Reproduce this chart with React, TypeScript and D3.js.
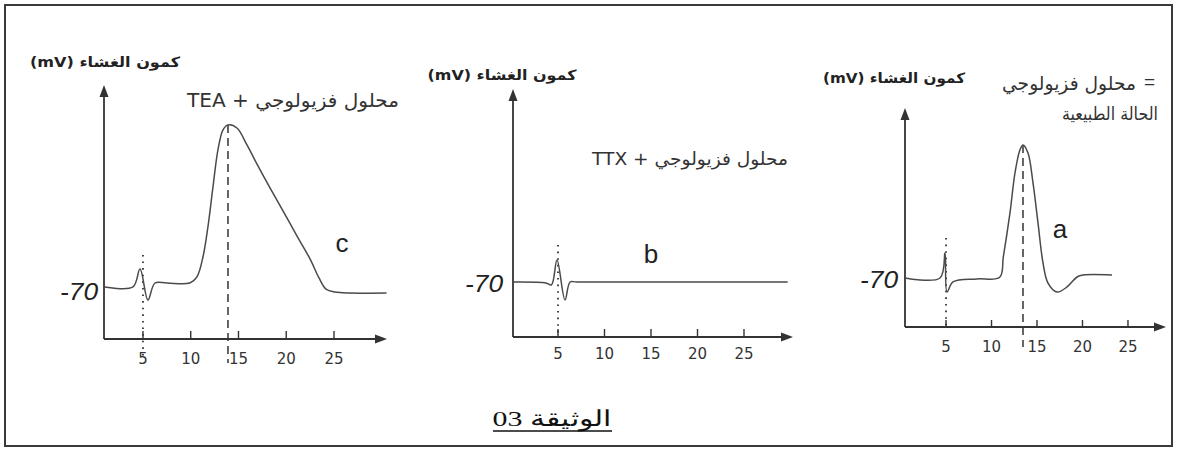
import React from 'react';
import * as d3 from 'd3';

// ---------- data ----------
const timeTicks = [5, 10, 15, 20, 25];
const restLabel = '-70';
const yAxisTitle = '(mV) كمون الغشاء';
const caption = '03 الوثيقة';

// panel c : physiological solution + TEA
const timeC = [1, 3.95, 4.69, 5.52, 6.26, 7.5, 9.9, 10.65, 11.28, 11.8, 12.33, 12.85, 13.38, 13.9, 14.84, 15.89, 17.04, 18.3, 19.66, 21.13, 22.49, 23.43, 24.16, 25.1, 26.68, 30.5];
const mvC = [-70, -70, -59.6, -77.5, -67.7, -67.7, -67.7, -64.2, -52.7, -35.4, -12.3, 9.1, 20.6, 23.5, 21.7, 11.9, -0.2, -12.9, -26.1, -40.6, -53.8, -64.8, -71.2, -72.9, -73.5, -73.5];

// panel b : physiological solution + TTX
const timeB = [0.2, 3.7, 4.3, 4.89, 5.75, 6.3, 7, 29.7];
const mvB = [-70, -70.5, -71.5, -58, -79.8, -70, -70, -70];

// panel a : physiological solution (normal state)
const timeA = [0.5, 4.34, 4.89, 5.11, 5.77, 8.41, 10.9, 11.3, 12.03, 12.58, 13.13, 13.46, 14.01, 14.56, 15.11, 15.66, 16.21, 17.2, 18.3, 19.4, 20.05, 23.24];
const mvA = [-70, -70, -54.7, -78.6, -72.4, -70.6, -69.6, -57, -30.2, -5.7, 8.4, 11.4, 6.5, -11.8, -36.3, -60.8, -73.1, -78.6, -75.5, -69.4, -68.2, -68.2];

// ---------- layout ----------
type TitleLine = { text: string; suffix?: string; x: number; y: number; len: number; size: number };
type Panel = {
  key: string;
  t: number[];
  v: number[];
  xDomain: [number, number];
  xRange: [number, number];
  yDomain: [number, number];
  yRange: [number, number];
  stimStart: number;
  stimExtra: number;
  peakExtra: number | null;
  letter: string;
  letterPos: [number, number];
  titleLines: TitleLine[];
  yTitle: { x: number; y: number; len: number };
  restPos: [number, number];
  tickLabelY: number;
  tickLen: number;
};

const panels: Panel[] = [
  {
    key: 'c', t: timeC, v: mvC,
    xDomain: [0.92, 30.55], xRange: [104, 387],
    yDomain: [-100, 46.5], yRange: [339, 85],
    stimStart: -51.5, stimExtra: 21, peakExtra: 24,
    letter: 'c', letterPos: [342, 252],
    titleLines: [{ text: 'TEA + محلول فزيولوجي', x: 293, y: 107, len: 212, size: 19 }],
    yTitle: { x: 105, y: 67, len: 150 },
    restPos: [98, 300], tickLabelY: 364, tickLen: 8,
  },
  {
    key: 'b', t: timeB, v: mvB,
    xDomain: [0.16, 30.27], xRange: [513, 793],
    yDomain: [-100, 35.3], yRange: [337, 89],
    stimStart: -49.8, stimExtra: 0, peakExtra: null,
    letter: 'b', letterPos: [651, 263],
    titleLines: [{ text: 'TTX + محلول فزيولوجي', x: 690, y: 165, len: 196, size: 18 }],
    yTitle: { x: 502, y: 80, len: 149 },
    restPos: [503, 292], tickLabelY: 359, tickLen: 8,
  },
  {
    key: 'a', t: timeA, v: mvA,
    xDomain: [0.49, 29.18], xRange: [905, 1166],
    yDomain: [-100, 34], yRange: [327, 108],
    stimStart: -45.5, stimExtra: 0, peakExtra: 20,
    letter: 'a', letterPos: [1060, 238],
    titleLines: [
      { text: 'محلول فزيولوجي', suffix: '=', x: 1069, y: 90, len: 134, size: 19 },
      { text: 'الحالة الطبيعية', x: 1110, y: 120, len: 96, size: 18 },
    ],
    yTitle: { x: 894, y: 83, len: 142 },
    restPos: [898, 288], tickLabelY: 352, tickLen: 7,
  },
];

const INK = '#333';
const CURVE = '#4a4a4a';
const SANS = "'Liberation Sans', 'DejaVu Sans', Arial, sans-serif";
const AR = "'DejaVu Sans', 'Liberation Sans', sans-serif";

function PanelView({ p }: { p: Panel }) {
  const x = d3.scaleLinear().domain(p.xDomain).range(p.xRange);
  const y = d3.scaleLinear().domain(p.yDomain).range(p.yRange);
  const x0 = x(p.xDomain[0]);
  const x1 = x(p.xDomain[1]);
  const yAxis = y(p.yDomain[0]);
  const yTop = y(p.yDomain[1]);
  const pts: [number, number][] = p.t.map((t, i) => [t, p.v[i]]);
  const line = d3
    .line<[number, number]>()
    .x((d) => x(d[0]))
    .y((d) => y(d[1]))
    .curve(d3.curveCatmullRom.alpha(0.5));
  const peakIdx = d3.maxIndex(p.v);
  const peakT = p.t[peakIdx];
  const peakV = p.v[peakIdx];
  const stimT = timeTicks[0];
  return (
    <g>
      <line x1={x0} y1={yAxis} x2={x0} y2={yTop + 8} stroke={INK} strokeWidth={1.8} />
      <path d={`M${x0},${yTop} L${x0 - 4.5},${yTop + 12} L${x0 + 4.5},${yTop + 12} Z`} fill={INK} />
      <line x1={x0} y1={yAxis} x2={x1 - 8} y2={yAxis} stroke={INK} strokeWidth={1.8} />
      <path d={`M${x1},${yAxis} L${x1 - 12},${yAxis - 4.5} L${x1 - 12},${yAxis + 4.5} Z`} fill={INK} />
      {timeTicks.map((t) => (
        <g key={t}>
          <line x1={x(t)} x2={x(t)} y1={yAxis - p.tickLen} y2={yAxis} stroke={INK} strokeWidth={1.4} />
          <text x={x(t)} y={p.tickLabelY} textAnchor="middle" fontFamily="'DejaVu Sans', sans-serif" fontSize={15} fill="#333">
            {t}
          </text>
        </g>
      ))}
      <line x1={x(stimT)} x2={x(stimT)} y1={y(p.stimStart)} y2={yAxis + p.stimExtra} stroke={INK} strokeWidth={1.8} strokeDasharray="1.6,5" />
      {p.peakExtra !== null && (
        <line x1={x(peakT)} x2={x(peakT)} y1={y(peakV)} y2={yAxis + p.peakExtra} stroke={INK} strokeWidth={1.5} strokeDasharray="8,5" />
      )}
      <path d={line(pts) || ''} fill="none" stroke={CURVE} strokeWidth={1.5} strokeLinejoin="round" />
      <text x={p.restPos[0]} y={p.restPos[1]} textAnchor="end" fontFamily={SANS} fontStyle="italic" fontSize={24} fill="#222" textLength={38} lengthAdjust="spacingAndGlyphs">
        {restLabel}
      </text>
      <text x={p.letterPos[0]} y={p.letterPos[1]} textAnchor="middle" fontFamily={SANS} fontSize={26} fill="#222">
        {p.letter}
      </text>
      <text x={p.yTitle.x} y={p.yTitle.y} textAnchor="middle" fontFamily={AR} fontWeight="bold" fontSize={14} fill="#222" textLength={p.yTitle.len} lengthAdjust="spacingAndGlyphs">
        {yAxisTitle}
      </text>
      {p.titleLines.map((l, i) => (
        <g key={i}>
          <text x={l.x} y={l.y} textAnchor="middle" fontFamily={AR} fontSize={l.size} fill="#333" textLength={l.len} lengthAdjust="spacingAndGlyphs">
            {l.text}
          </text>
          {l.suffix && (
            <text x={l.x + l.len / 2 + 8} y={l.y - 2} textAnchor="start" fontFamily={SANS} fontSize={l.size} fill="#333">
              {l.suffix}
            </text>
          )}
        </g>
      ))}
    </g>
  );
}

export default function App() {
  return (
    <svg
      width={1177}
      height={451}
      style={{ position: 'fixed', left: 0, top: 0, background: '#fff' }}
      xmlns="http://www.w3.org/2000/svg"
    >
      <rect x={0} y={0} width={1177} height={451} fill="#fff" />
      <rect x={5} y={5} width={1167} height={441} fill="none" stroke="#3a3a3a" strokeWidth={2} />
      {panels.map((p) => (
        <PanelView key={p.key} p={p} />
      ))}
      <text x={552} y={426} textAnchor="middle" fontFamily="'Liberation Serif', 'DejaVu Serif', serif" fontSize={22} fill="#111" textLength={119} lengthAdjust="spacingAndGlyphs">
        {caption}
      </text>
      <line x1={493} x2={612} y1={431} y2={431} stroke="#111" strokeWidth={1.3} />
    </svg>
  );
}
